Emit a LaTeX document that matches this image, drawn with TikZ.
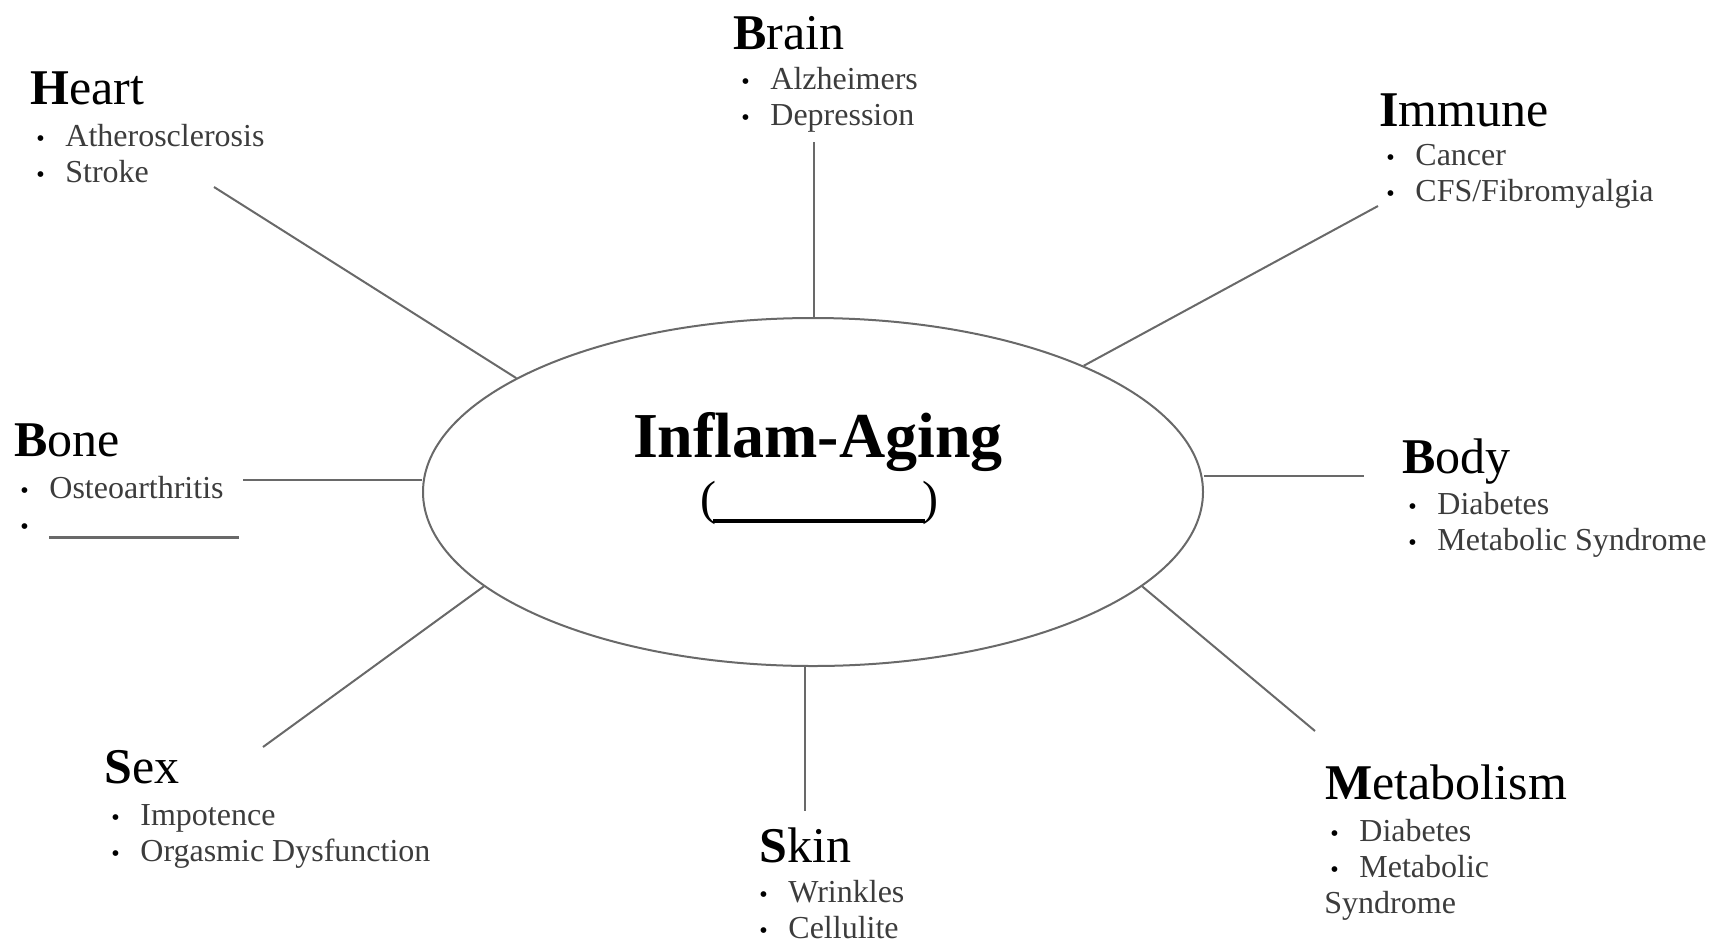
\documentclass[tikz,border=0pt]{standalone}
\usepackage{fontspec}
\setmainfont{Liberation Serif}
\usepackage{tikz}
\usetikzlibrary{positioning}
\usetikzlibrary{shapes.geometric}
\definecolor{linegray}{RGB}{105,105,105}
\definecolor{textgray}{RGB}{60,60,60}
\newcommand{\hd}[2]{\textbf{#1}#2}
\newcommand{\itm}{\makebox[14.5pt][l]{\fontsize{12}{12}\selectfont\textcolor{black}{\textbullet}}}

\begin{document}
\begin{tikzpicture}[
  x=0.5pt, y=-0.5pt,
  core/.style={ellipse, draw=linegray, line width=1pt, minimum width=390pt, minimum height=174pt, inner sep=0pt},
  head/.style={anchor=base west, inner sep=0pt, font=\fontsize{25}{25}\selectfont},
  items/.style={anchor=base west, inner sep=0pt, align=left, text=textgray, font=\fontsize{16}{18}\selectfont},
  spoke/.style={draw=linegray, line width=1pt}
]
\useasboundingbox (0,0) rectangle (1718,943);

% Centre
\node[core] (core) at (813,492) {};
\node[anchor=base, inner sep=0pt, font=\fontsize{32}{32}\selectfont\bfseries] (title) at (818,457) {Inflam-Aging};
\node[anchor=base, inner sep=0pt, font=\fontsize{24}{24}\selectfont] (blank) at (819,514)
  {(\kern-1.5pt\rule[-4.3pt]{106pt}{2pt}\kern-1.5pt)};

% Groups (list nodes sit on their last baseline)
\node[head] (heart) at (30,104) {\hd{H}{eart}};
\node[items] (heartlist) at (36,182) {\itm Atherosclerosis\\ \itm Stroke};

\node[head] (brain) at (733,49) {\hd{B}{rain}};
\node[items] (brainlist) at (741,125) {\itm Alzheimers\\ \itm Depression};

\node[head] (immune) at (1379,126) {\hd{I}{mmune}};
\node[items] (immunelist) at (1386,201) {\itm Cancer\\ \itm CFS/Fibromyalgia};

\node[head] (bone) at (14,456) {\hd{B}{one}};
\node[items] (bonelist) at (20,534) {\itm Osteoarthritis\\ \itm\textcolor{linegray}{\rule[-2.5pt]{95pt}{1.5pt}}};

\node[head] (body) at (1402,473) {\hd{B}{ody}};
\node[items] (bodylist) at (1408,550) {\itm Diabetes\\ \itm Metabolic Syndrome};

\node[head] (sex) at (104,783) {\hd{S}{ex}};
\node[items] (sexlist) at (111,861) {\itm Impotence\\ \itm Orgasmic Dysfunction};

\node[head] (skin) at (759,862) {\hd{S}{kin}};
\node[items] (skinlist) at (759,938) {\itm Wrinkles\\ \itm Cellulite};

\node[head] (metab) at (1325,799) {\hd{M}{etabolism}};
\node[items] (metablist) at (1330,913) {\itm Diabetes\\ \itm Metabolic\\ \hspace*{-3pt}Syndrome};

% Spokes
\coordinate (heartend) at (214,187);
\coordinate (brainend) at (814,142);
\coordinate (immuneend) at (1378,206);
\coordinate (boneend) at (243,480);
\coordinate (bodyend) at (1364,476);
\coordinate (sexend) at (263,747);
\coordinate (skinend) at (805,811);
\coordinate (metabend) at (1315,731);

\draw[spoke] (core.159) -- (heartend);
\draw[spoke] (core.north -| brainend) -- (brainend);
\draw[spoke] (core.25) -- (immuneend);
\draw[spoke] (core.west |- boneend) -- (boneend);
\draw[spoke] (core.east |- bodyend) -- (bodyend);
\draw[spoke] (core.196) -- (sexend);
\draw[spoke] (core.south -| skinend) -- (skinend);
\draw[spoke] (core.344) -- (metabend);

\end{tikzpicture}
\end{document}
